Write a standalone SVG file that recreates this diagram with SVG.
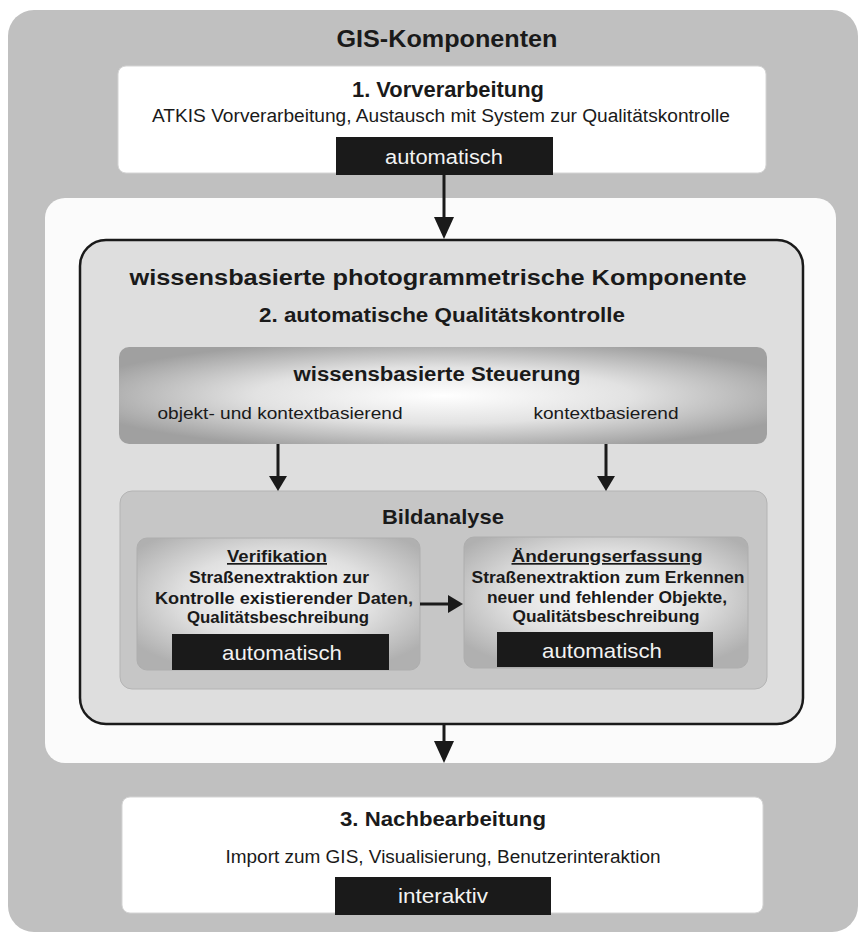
<svg xmlns="http://www.w3.org/2000/svg" width="864" height="940" viewBox="0 0 864 940">
<defs>
<style>
text{font-family:"Liberation Sans",Arial,sans-serif;fill:#1a1a1a;text-anchor:middle}
.b{font-weight:bold}
.w{fill:#f2f2f2}
.blk{fill:#1a1a1a}
.white{fill:#ffffff;stroke:#d4d4d4;stroke-width:1}
.conn{stroke:#1a1a1a;stroke-width:3;fill:none}
.big{marker-end:url(#ahb)}
.sm{marker-end:url(#ahs)}
</style>
<marker id="ahb" markerUnits="userSpaceOnUse" markerWidth="24" markerHeight="22" refX="2" refY="10" orient="auto">
<path d="M0,0 L22,10 L0,20 z" fill="#1a1a1a"/>
</marker>
<marker id="ahs" markerUnits="userSpaceOnUse" markerWidth="18" markerHeight="20" refX="1" refY="9" orient="auto">
<path d="M0,0 L15,9 L0,18 z" fill="#1a1a1a"/>
</marker>
<radialGradient id="rg" cx="0.5" cy="0.5" r="0.58">
<stop offset="0" stop-color="#ffffff"/>
<stop offset="0.5" stop-color="#e2e2e2"/>
<stop offset="1" stop-color="#a0a0a0"/>
</radialGradient>
<radialGradient id="rg2" cx="0.5" cy="0.45" r="0.62">
<stop offset="0" stop-color="#ffffff"/>
<stop offset="0.55" stop-color="#e0e0e0"/>
<stop offset="1" stop-color="#b0b0b0"/>
</radialGradient>
</defs>

<g id="gis">
<rect x="8" y="10" width="850" height="922" rx="26" fill="#c0c0c0"/>
<text class="b" x="447" y="47" font-size="23" textLength="221" lengthAdjust="spacingAndGlyphs">GIS-Komponenten</text>
</g>

<g id="vorverarbeitung">
<rect class="white" x="118" y="66" width="648" height="107" rx="8"/>
<text class="b" x="448" y="97" font-size="22" textLength="192" lengthAdjust="spacingAndGlyphs">1. Vorverarbeitung</text>
<text x="441" y="122" font-size="18" textLength="578" lengthAdjust="spacingAndGlyphs">ATKIS Vorverarbeitung, Austausch mit System zur Qualitätskontrolle</text>
<rect class="blk" x="336" y="137" width="217" height="38"/>
<text class="w" x="444" y="164" font-size="20" textLength="118" lengthAdjust="spacingAndGlyphs">automatisch</text>
</g>

<g id="panel">
<rect x="45" y="198" width="791" height="565" rx="20" fill="#fbfbfb"/>
</g>

<g id="komponente">
<rect x="80" y="240" width="723" height="484" rx="26" fill="#dedede" stroke="#1a1a1a" stroke-width="2.5"/>
<text class="b" x="438" y="285" font-size="22" textLength="617" lengthAdjust="spacingAndGlyphs">wissensbasierte photogrammetrische Komponente</text>
<text class="b" x="442" y="322" font-size="20" textLength="366" lengthAdjust="spacingAndGlyphs">2. automatische Qualitätskontrolle</text>
</g>

<g id="steuerung">
<rect x="119" y="347" width="648" height="97" rx="10" fill="url(#rg)"/>
<text class="b" x="437" y="381" font-size="20" textLength="287" lengthAdjust="spacingAndGlyphs">wissensbasierte Steuerung</text>
<text x="280" y="419" font-size="17" textLength="245" lengthAdjust="spacingAndGlyphs">objekt- und kontextbasierend</text>
<text x="606" y="419" font-size="17" textLength="145" lengthAdjust="spacingAndGlyphs">kontextbasierend</text>
</g>

<g id="bildanalyse">
<rect x="120" y="491" width="647" height="198" rx="12" fill="#c6c6c6" stroke="#b4b4b4" stroke-width="1"/>
<text class="b" x="443" y="524" font-size="21" textLength="122" lengthAdjust="spacingAndGlyphs">Bildanalyse</text>
</g>

<g id="verifikation">
<rect x="137" y="538" width="283" height="132" rx="10" fill="url(#rg2)" stroke="#aeaeae" stroke-width="1"/>
<text class="b" x="277" y="562" font-size="17" text-decoration="underline" textLength="100" lengthAdjust="spacingAndGlyphs">Verifikation</text>
<text class="b" x="279" y="583" font-size="17" textLength="180" lengthAdjust="spacingAndGlyphs">Straßenextraktion zur</text>
<text class="b" x="284" y="604" font-size="17" textLength="258" lengthAdjust="spacingAndGlyphs">Kontrolle existierender Daten,</text>
<text class="b" x="278" y="623" font-size="17" textLength="182" lengthAdjust="spacingAndGlyphs">Qualitätsbeschreibung</text>
<rect class="blk" x="172" y="634" width="217" height="36"/>
<text class="w" x="282" y="660" font-size="21" textLength="120" lengthAdjust="spacingAndGlyphs">automatisch</text>
</g>

<g id="aenderungserfassung">
<rect x="464" y="537" width="284" height="131" rx="10" fill="url(#rg2)" stroke="#aeaeae" stroke-width="1"/>
<text class="b" x="607" y="562" font-size="17" text-decoration="underline" textLength="191" lengthAdjust="spacingAndGlyphs">Änderungserfassung</text>
<text class="b" x="608" y="583" font-size="17" textLength="273" lengthAdjust="spacingAndGlyphs">Straßenextraktion zum Erkennen</text>
<text class="b" x="607" y="603" font-size="17" textLength="240" lengthAdjust="spacingAndGlyphs">neuer und fehlender Objekte,</text>
<text class="b" x="606" y="622" font-size="17" textLength="187" lengthAdjust="spacingAndGlyphs">Qualitätsbeschreibung</text>
<rect class="blk" x="497" y="632" width="216" height="35"/>
<text class="w" x="602" y="658" font-size="21" textLength="120" lengthAdjust="spacingAndGlyphs">automatisch</text>
</g>

<g id="nachbearbeitung">
<rect class="white" x="122" y="797" width="641" height="116" rx="8"/>
<text class="b" x="443" y="826" font-size="21" textLength="206" lengthAdjust="spacingAndGlyphs">3. Nachbearbeitung</text>
<text x="443" y="863" font-size="18" textLength="435" lengthAdjust="spacingAndGlyphs">Import zum GIS, Visualisierung, Benutzerinteraktion</text>
<rect class="blk" x="335" y="877" width="216" height="38"/>
<text class="w" x="443" y="903" font-size="20" textLength="90" lengthAdjust="spacingAndGlyphs">interaktiv</text>
</g>

<g id="connectors">
<line class="conn big" x1="444" y1="175" x2="444" y2="219"/>
<line class="conn sm" x1="278" y1="444" x2="278" y2="477"/>
<line class="conn sm" x1="606" y1="444" x2="606" y2="477"/>
<line class="conn sm" x1="420" y1="604" x2="449" y2="604"/>
<line class="conn big" x1="444" y1="724" x2="444" y2="743"/>
</g>
</svg>
